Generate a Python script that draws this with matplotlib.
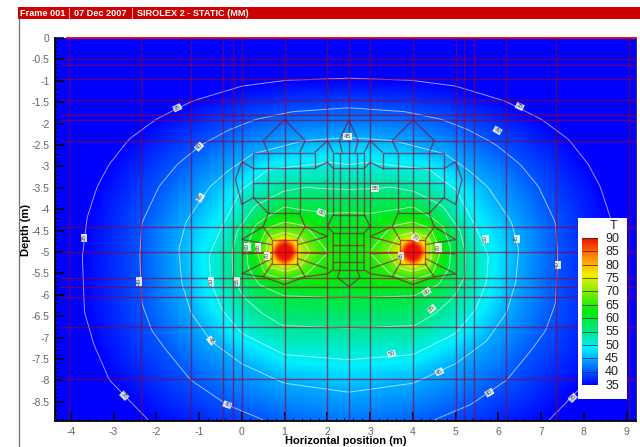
import numpy as np
import matplotlib
matplotlib.use("Agg")
import matplotlib.pyplot as plt
from matplotlib.colors import LinearSegmentedColormap, Normalize
from matplotlib.patches import Rectangle
from matplotlib.lines import Line2D
from matplotlib.ticker import MultipleLocator
import matplotlib.tri as mtri

plt.rcParams['font.family'] = ['Liberation Sans', 'DejaVu Sans']
plt.rcParams['axes.unicode_minus'] = False

W, H = 640, 447
TITLE_PARTS = ["Frame 001", "07 Dec 2007", "SIROLEX 2 - STATIC (MM)"]
X_LABEL = "Horizontal position (m)"
Y_LABEL = "Depth (m)"
X_TICKS = list(range(-4, 10))
Y_TICKS = [0, -0.5, -1, -1.5, -2, -2.5, -3, -3.5, -4, -4.5, -5, -5.5, -6, -6.5, -7, -7.5, -8, -8.5]
Y_TICK_LABELS = ["0", "-0.5", "-1", "-1.5", "-2", "-2.5", "-3", "-3.5", "-4", "-4.5", "-5",
                 "-5.5", "-6", "-6.5", "-7", "-7.5", "-8", "-8.5"]
LEGEND_LEVELS = [90, 85, 80, 75, 70, 65, 60, 55, 50, 45, 40, 35]
LINE_LEVELS = [35, 40, 45, 50, 55, 60, 65, 70]

# Temperature, left half of the symmetric section (x, depth)
T35 = [(2.5, -.95), (1.0, -1.0), (0, -1.13), (-1.16, -1.48), (-2.0, -1.9), (-2.64, -2.37), (-3.1, -2.95), (-3.38, -3.47),
       (-3.62, -4.2), (-3.73, -5.1), (-3.68, -6.4), (-3.45, -7.2), (-3.1, -8.0), (-2.75, -8.36), (-2.17, -8.95)]
T40 = [(2.5, -1.63), (1.2, -1.72), (.34, -1.9), (-.3, -2.15), (-.93, -2.49), (-1.5, -2.95), (-1.93, -3.47), (-2.33, -4.32), (-2.38, -5.1),
       (-2.33, -6.2), (-2.1, -6.83), (-1.77, -7.28), (-1.18, -8.0), (-.34, -8.57), (.57, -8.95)]
T45 = [(2.5, -2.33), (1.5, -2.4), (.25, -2.72), (-.3, -3.1), (-.76, -3.5), (-1.3, -4.3), (-1.47, -4.95), (-1.4, -5.7), (-1.18, -6.42),
       (-.72, -7.07), (0, -7.6), (1, -8.06), (2.5, -8.27)]
T50 = [(2.5, -2.96), (2, -2.9), (1.72, -2.95), (.62, -3.07), (0, -3.54), (-.45, -4.4), (-.76, -5.1), (-.72, -5.7),
       (-.46, -6.35), (0, -6.9), (1, -7.4), (2.5, -7.52)]
T55 = [(2.5, -3.54), (1, -3.58), (.3, -3.94), (-.1, -4.5), (-.22, -5.0), (-.2, -5.6), (.05, -6.05), (.5, -6.45),
       (.95, -6.72), (2.5, -6.78)]
T60 = [(2.5, -4.06), (1.86, -4.08), (1.33, -4.01), (.62, -4.17), (.3, -4.4), (.12, -4.9), (.15, -5.35), (.4, -5.75),
       (1, -6.02), (2.5, -6.07)]
T65 = [(.37, -5), (.6, -4.45), (1, -4.3), (1.5, -4.4), (2.0, -5), (1.5, -5.5), (1, -5.65), (.55, -5.5)]
T70 = [(.6, -5), (.75, -4.65), (1, -4.55), (1.35, -4.65), (1.6, -5), (1.35, -5.35), (1, -5.45), (.75, -5.35)]
T75 = [(.67, -5), (1, -4.67), (1.33, -5), (1, -5.33), (.74, -4.74), (1.26, -4.74), (1.26, -5.26), (.74, -5.26)]
T80 = [(.7, -5), (1, -4.7), (1.3, -5), (1, -5.3), (.8, -4.8), (1.2, -4.8), (1.2, -5.2), (.8, -5.2)]
T85 = [(.73, -5), (1, -4.73), (1.27, -5), (1, -5.27), (.82, -4.82), (1.18, -4.82), (1.18, -5.18), (.82, -5.18)]
T90 = [(1, -5), (.78, -5), (1, -4.78), (1.22, -5), (1, -5.22), (.85, -4.85), (1.15, -4.85), (1.15, -5.15), (.85, -5.15)]
SADDLE = [(2.5, -5.0, 62.5), (2.5, -4.5, 61.5), (2.5, -5.5, 61.5)]
EDGE = [(-4.37, 0, 26), (-3, 0, 27), (-2.0, 0, 28), (-1, 0, 29), (0, 0, 30), (1, 0, 31), (2.5, 0, 31.5),
        (-4.37, -1.5, 28), (-4.37, -3, 31), (-4.37, -5, 32.5), (-4.37, -6.5, 32.5),
        (-4.37, -7.8, 30), (-4.37, -8.95, 28), (-3.3, -8.95, 31), (-.8, -8.95, 37.5), (1.5, -8.95, 41.3), (2.5, -8.95, 41.8)]

# Computational mesh: full-length lines, then left half polylines (mirrored about x = 2.5)
MESH_X = [-4.05, -2.36, -1.18, -.43, -.2, 0, 1, 2, 2.5, 3, 4, 5, 5.2, 5.43, 6.18, 7.36, 9.05]
MESH_Y = [-.5, -.62, -.95, -1.46, -1.81, -1.91, -2.4, -4.41, -5.0, -5.6, -5.81, -6.05, -6.75, -7.96]
MESH_POLY = [
    [(1, -1.91), (.5, -2.4), (.62, -2.68)],
    [(1, -1.91), (1.48, -2.4), (1.35, -2.68)],
    [(2.5, -1.91), (2.28, -2.4), (2.35, -2.68)],
    [(2, -2.4), (1.7, -2.68)], [(2, -2.4), (2.14, -2.68)],
    [(0, -2.89), (.27, -3.05)], [(0, -2.89), (-.15, -3.3), (0, -3.89), (.27, -3.73)],
    [(.27, -2.68), (1.7, -2.68)], [(2.14, -2.68), (2.5, -2.68)],
    [(.27, -3.05), (1.7, -3.05), (2, -2.9), (2.14, -3.05), (2.5, -3.05)],
    [(.27, -3.4), (2.5, -3.4)], [(.27, -3.73), (2.5, -3.73)],
    [(.27, -2.68), (.27, -3.73)], [(.62, -2.68), (.62, -4.1)], [(1.35, -2.68), (1.35, -4.1)],
    [(1.7, -2.68), (1.7, -3.05)], [(2.14, -2.68), (2.14, -4.13)], [(2.3, -2.68), (2.3, -4.55)],
    [(.27, -3.73), (.62, -4.1), (.5, -4.41)], [(.62, -4.1), (1.35, -4.1), (1.48, -4.41)],
    [(2.14, -4.13), (2.5, -4.13)], [(2, -4.41), (2.14, -4.13)], [(2, -4.41), (2.14, -4.55)],
    [(2.14, -4.55), (2.14, -5.41), (2, -5.51)], [(2.3, -4.55), (2.3, -5.41), (2.24, -5.6), (2.5, -5.81)],
    [(2.14, -4.55), (2.5, -4.55)], [(2.14, -4.83), (2.5, -4.83)], [(2.14, -5.23), (2.5, -5.23)],
    [(2.14, -5.41), (2.5, -5.41)],
    [(.71, -4.71), (1.3, -4.71), (1.3, -5.27), (.71, -5.27), (.71, -4.71)],
    [(.71, -4.71), (.5, -4.41)], [(1.3, -4.71), (1.48, -4.41)], [(1.3, -5.27), (1.48, -5.58)], [(.71, -5.27), (.5, -5.58)],
    [(1.3, -4.83), (2, -4.64)], [(1.3, -5.02), (2, -5.04)], [(1.3, -5.15), (2, -5.39)],
    [(.71, -4.83), (0, -4.71)], [(.71, -5.02), (0, -5.04)], [(.71, -5.15), (0, -5.51)],
    [(0, -5.51), (.5, -5.58), (1, -5.76), (1.48, -5.58), (2, -5.51)],
    [(1.48, -4.41), (2, -4.64)], [(0, -4.71), (.5, -4.41)],
]

# Contour labels: x, depth, text, rotation
LABEL_X = [-1.51, -1.0, -.97, 2.47, 3.12, 1.86, -3.69, -2.40, -.72, -.11, .13, .38, .59, 4.06, 3.73, 4.6, 5.7, 6.43,
           7.39, 5.79, 4.62, 3.5, 4.44, 4.32, 6.5, 5.98, -.72, -.34, -2.75, 7.74]
LABEL_Y = [-1.63, -2.54, -3.73, -2.30, -3.52, -4.08, -4.67, -5.69, -5.69, -5.69, -4.88, -4.90, -5.09, -4.67, -5.09,
           -4.9, -4.69, -4.69, -5.3, -8.29, -7.8, -7.38, -6.33, -5.93, -1.6, -2.16, -7.07, -8.57, -8.36, -8.41]
LABEL_T = ["35", "40", "45", "45", "55", "60", "35", "40", "50", "55", "60", "65", "70", "70", "65", "70", "50", "45",
           "40", "40", "45", "50", "55", "60", "35", "40", "45", "40", "35", "35"]
LABEL_R = [25, 45, 60, 0, 0, -20, 90, 90, 90, 90, 90, 90, 90, -20, 90, 90, 90, 90, 90, 30, 25, 15, 40, 30, -25, -30,
           -50, -20, -45, 45]

samples = []
for level, pts in zip(range(35, 95, 5), [T35, T40, T45, T50, T55, T60, T65, T70, T75, T80, T85, T90]):
    samples += [(x, y, float(level)) for x, y in pts]
samples += [(x, y, float(t)) for x, y, t in SADDLE + EDGE]
arr = np.array(samples)
left = arr[arr[:, 0] < 2.5]
all_pts = np.vstack([arr, np.column_stack([5 - left[:, 0], left[:, 1], left[:, 2]])])

cmap = LinearSegmentedColormap.from_list(
    "tecplot", [(0, "#0000ff"), (.25, "#00f0ff"), (.36, "#00e690"), (.5, "#00ea10"), (.75, "#f4f000"),
                (.87, "#ff8c00"), (1, "#f01000")])
norm = Normalize(35, 90)

fig = plt.figure(figsize=(W / 100, H / 100), dpi=100, facecolor="white")


def fig_rect(x0, y0, x1, y1):
    return (x0 / W, 1 - y1 / H, (x1 - x0) / W, (y1 - y0) / H)


# Frame header
fig.add_artist(Rectangle((18 / W, 1 - 19 / H), (W - 18) / W, 12 / H, transform=fig.transFigure, color="#cc0000", lw=0))
fig.add_artist(Line2D([18.5 / W, 18.5 / W], [0, 1 - 19 / H], transform=fig.transFigure, color="#707070", lw=0.9))
for px, s in zip([20, 74, 137], TITLE_PARTS):
    fig.text(px / W, 1 - 13.5 / H, s, color="white", fontsize=6.6, fontweight="bold", va="center", ha="left")
for px in [69, 132]:
    fig.add_artist(Line2D([px / W, px / W], [1 - 18 / H, 1 - 8 / H], transform=fig.transFigure, color="#ffd0d0", lw=0.6))

ax = fig.add_axes(fig_rect(55, 38, 636, 421))
tri = mtri.Triangulation(all_pts[:, 0], all_pts[:, 1])
interp = mtri.LinearTriInterpolator(tri, all_pts[:, 2])
gx = np.linspace(-4.37, 9.22, 581)
gy = np.linspace(-8.95, 0, 383)
GX, GY = np.meshgrid(gx, gy)
field = np.ma.filled(interp(GX, GY), 30.0)
# Soften the piecewise-linear facets
kernel = np.ones(5) / 5
for _ in range(2):
    pad = np.pad(field, ((2, 2), (0, 0)), mode="edge")
    field = np.apply_along_axis(lambda c: np.convolve(c, kernel, mode="valid"), 0, pad)
    pad = np.pad(field, ((0, 0), (2, 2)), mode="edge")
    field = np.apply_along_axis(lambda r: np.convolve(r, kernel, mode="valid"), 1, pad)

ax.imshow(field, origin="lower", extent=(-4.37, 9.22, -8.95, 0), aspect="auto", cmap=cmap, norm=norm,
          interpolation="bilinear", zorder=1)
ax.contour(GX, GY, field, levels=LINE_LEVELS, colors="white", linewidths=0.7, alpha=0.6, zorder=2)

mesh_kw = dict(color="#980030", lw=1.0, alpha=0.62, zorder=3, solid_capstyle="butt")
for x in MESH_X:
    ax.plot([x, x], [-8.95, 0], **mesh_kw)
for y in MESH_Y:
    ax.plot([-4.25, 9.22], [y, y], **mesh_kw)
for poly in MESH_POLY:
    p = np.array(poly)
    ax.plot(p[:, 0], p[:, 1], **mesh_kw)
    ax.plot(5 - p[:, 0], p[:, 1], **mesh_kw)
ax.plot([-4.1, 9.22], [-0.01, -0.01], color="#e00010", lw=1.3, zorder=4, clip_on=False)

for x, y, t, r in zip(LABEL_X, LABEL_Y, LABEL_T, LABEL_R):
    ax.text(x, y, t, fontsize=4.5, color="#444444", rotation=r, rotation_mode="anchor", ha="center", va="center", zorder=5,
            bbox=dict(facecolor="white", edgecolor="none", pad=0.5, alpha=0.85))

ax.set_xlim(-4.37, 9.22)
ax.set_ylim(-8.95, 0)
ax.set_xticks(X_TICKS)
ax.set_yticks(Y_TICKS)
ax.set_yticklabels(Y_TICK_LABELS)
ax.xaxis.set_minor_locator(MultipleLocator(0.2))
ax.yaxis.set_minor_locator(MultipleLocator(0.1))
ax.tick_params(axis="both", which="major", direction="in", length=6.5, width=1.1, color="black",
               labelsize=7.5, labelcolor="#666666", pad=4)
ax.tick_params(axis="both", which="minor", direction="in", length=2.5, width=0.6, color="black")
ax.spines["top"].set_visible(False)
ax.spines["right"].set_color("#400030")
ax.spines["right"].set_linewidth(0.6)
ax.spines["left"].set_linewidth(1.3)
ax.spines["bottom"].set_linewidth(1.3)
for tk in ax.xaxis.get_major_ticks() + ax.yaxis.get_major_ticks():
    tk.tick1line.set_zorder(6)
fig.text(346 / W, 1 - 441 / H, X_LABEL, fontsize=8, fontweight="bold", ha="center", va="center")
fig.text(26 / W, 1 - 230 / H, Y_LABEL, fontsize=8, fontweight="bold", ha="center", va="center", rotation=90)

# Legend
box = fig.add_axes(fig_rect(578, 218, 627, 399), facecolor="white", zorder=5)
box.set_xlim(578, 627)
box.set_ylim(399, 218)
box.set_xticks([])
box.set_yticks([])
for s in box.spines.values():
    s.set_visible(False)
box.text(614, 226, "T", fontsize=9, ha="center", va="center", color="#222222")
ypos = np.linspace(239, 385.5, len(LEGEND_LEVELS))
for yp, lev in zip(ypos, LEGEND_LEVELS):
    box.text(612, yp, str(lev), fontsize=9, ha="center", va="center", color="#222222")

bar = fig.add_axes(fig_rect(582, 238, 598, 385), zorder=6)
grad = np.linspace(LEGEND_LEVELS[0], LEGEND_LEVELS[-1], 256)[:, None]
bar.imshow(grad, aspect="auto", cmap=cmap, norm=norm, extent=(0, 1, LEGEND_LEVELS[-1], LEGEND_LEVELS[0]))
bar.hlines(LEGEND_LEVELS, 0, 1, color="#222222", lw=0.6, alpha=0.8)
bar.set_ylim(LEGEND_LEVELS[-1], LEGEND_LEVELS[0])
bar.set_xticks([])
bar.set_yticks([])
for s in bar.spines.values():
    s.set_visible(False)

fig.savefig("out.png", dpi=100)
